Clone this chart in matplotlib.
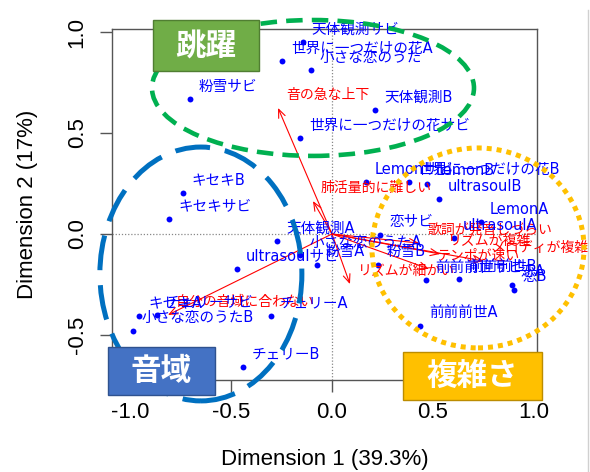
import matplotlib
matplotlib.use("Agg")
import matplotlib.pyplot as plt
from matplotlib.patches import Ellipse, Rectangle
from matplotlib.lines import Line2D

# ---------------- data ----------------
row_labels = ["天体観測サビ", "世界に一つだけの花A", "小さな恋のうた", "粉雪サビ", "天体観測B",
              "世界に一つだけの花サビ", "Lemonサビ", "世界に一つだけの花B", "LemonB", "ultrasoulB",
              "LemonA", "ultrasoulA", "恋サビ", "小さな恋のうたA", "粉雪B",
              "前前前世サビ", "前前前世B", "恋A", "恋B", "前前前世A",
              "キセキB", "キセキサビ", "天体観測A", "ultrasoulサビ", "粉雪A",
              "チェリーA", "キセキA", "チェリーサビ", "小さな恋のうたB", "チェリーB"]
row_x = [-0.144, -0.248, -0.104, -0.703, 0.213,
         -0.158, 0.168, 0.381, 0.470, 0.530,
         0.738, 0.604, 0.238, -0.158, 0.228,
         0.465, 0.629, 0.891, 0.901, 0.436,
         -0.738, -0.807, -0.272, -0.470, -0.074,
         -0.302, -0.955, -0.866, -0.985, -0.441]
row_y = [0.950, 0.856, 0.812, 0.668, 0.614,
         0.475, 0.257, 0.257, 0.248, 0.173,
         0.059, -0.020, -0.005, -0.104, -0.153,
         -0.228, -0.223, -0.252, -0.277, -0.455,
         0.203, 0.074, -0.035, -0.173, -0.153,
         -0.406, -0.406, -0.401, -0.480, -0.658]

col_labels = ["音の急な上下", "肺活量的に難しい", "自分の音域に合わない", "リズムが細かい",
              "歌詞が発音しづらい", "リズムが複雑", "テンポが速い", "メロディが複雑"]
col_x = [-0.267, -0.094, -0.812, 0.089, 0.431, 0.535, 0.480, 0.752]
col_y = [0.624, 0.163, -0.401, -0.248, -0.045, -0.099, -0.173, -0.134]

x_ticks = [-1.0, -0.5, 0.0, 0.5, 1.0]
y_ticks = [-0.5, 0.0, 0.5, 1.0]
x_title = "Dimension 1 (39.3%)"
y_title = "Dimension 2 (17%)"

group_names = ["跳躍", "音域", "複雑さ"]
group_centers_x = [-0.094, -0.649, 0.723]
group_centers_y = [0.723, -0.198, -0.069]
group_widths = [1.594, 1.00, 1.05]
group_heights = [0.673, 1.257, 0.99]

# ---------------- style ----------------
LABEL_FONT = ["DejaVu Sans", "Noto Sans CJK JP"]
AXIS_FONT = ["Liberation Sans", "DejaVu Sans"]

W, H = 590, 472
fig = plt.figure(figsize=(W / 100, H / 100), dpi=100)
fig.patch.set_facecolor("white")

L, R, T, B = 112, 537, 29, 380
ax = fig.add_axes([L / W, 1 - B / H, (R - L) / W, (B - T) / H])
ax.set_xlim(-1.089, 1.015)
ax.set_ylim(-0.723, 1.015)

for sp in ax.spines.values():
    sp.set_color("#555555")
    sp.set_linewidth(1.0)

ax.axhline(0, color="#888888", ls=(0, (1, 1.5)), lw=0.9, zorder=1)
ax.axvline(0, color="#888888", ls=(0, (1, 1.5)), lw=0.9, zorder=1)

ax.set_xticks(x_ticks)
ax.set_yticks(y_ticks)
ax.set_xticklabels([f"{v:.1f}" for v in x_ticks], family=AXIS_FONT, fontsize=16)
ax.set_yticklabels([f"{v:.1f}" for v in y_ticks], family=AXIS_FONT, fontsize=16,
                   rotation=90, va="center", ha="right")
ax.tick_params(direction="out", length=8.5, width=1.0, color="#555555", pad=7)
ax.tick_params(axis="y", pad=9)

fig.text(325 / W, 1 - 460 / H, x_title, ha="center", va="center",
         family=AXIS_FONT, fontsize=16)
fig.text(28 / W, 1 - 204 / H, y_title, ha="center", va="center", rotation=90,
         family=AXIS_FONT, fontsize=16)

# arrows (columns)
for lab, x, y in zip(col_labels, col_x, col_y):
    ax.annotate("", xy=(x, y), xytext=(0, 0),
                arrowprops=dict(arrowstyle="->,head_length=0.6,head_width=0.25",
                                color="red", lw=0.8, shrinkA=0, shrinkB=0),
                zorder=2.5)
    ax.annotate(lab, (x, y), xytext=(8, 13), textcoords="offset pixels",
                ha="left", va="center", color="red", fontsize=10,
                family=LABEL_FONT, annotation_clip=False, zorder=3)

# points (rows)
ax.scatter(row_x, row_y, s=18, color="blue", zorder=2, linewidths=0)
for lab, x, y in zip(row_labels, row_x, row_y):
    ax.annotate(lab, (x, y), xytext=(9, 13), textcoords="offset pixels",
                ha="left", va="center", color="blue", fontsize=10.5,
                family=LABEL_FONT, annotation_clip=False, zorder=3)

# group ellipses
ell_colors = ["#00B050", "#0070C0", "#FFC000"]
ell_lw = [3.3, 3.6, 3.6]
ell_ls = [(0, (3.6, 2.0)), (0, (7.0, 3.0)), (0, (1.0, 1.0))]
for cx, cy, w, h, c, lw, ls in zip(group_centers_x, group_centers_y, group_widths,
                                   group_heights, ell_colors, ell_lw, ell_ls):
    e = Ellipse((cx, cy), w, h, fill=False, edgecolor=c, lw=lw, ls=ls,
                clip_on=False, zorder=5, capstyle="butt")
    ax.add_patch(e)

# group title boxes (figure pixel layout)
box_px = [(153, 20, 259, 71), (108, 347, 215, 395), (403, 352, 542, 400)]
box_face = ["#70AD47", "#4472C4", "#FFC000"]
box_edge = ["#507E32", "#2F528F", "#BC8C00"]
for name, (x0, y0, x1, y1), fc, ec in zip(group_names, box_px, box_face, box_edge):
    rect = Rectangle((x0 / W, 1 - y1 / H), (x1 - x0) / W, (y1 - y0) / H,
                     transform=fig.transFigure, facecolor=fc, edgecolor=ec,
                     lw=1.0, zorder=10)
    fig.add_artist(rect)
    fig.text((x0 + x1) / 2 / W, 1 - (y0 + y1) / 2 / H, name, ha="center", va="center",
             color="white", fontsize=22, fontweight="bold",
             family=["Noto Sans CJK JP"], zorder=11)

# screenshot edge line
fig.add_artist(Line2D([588 / W, 588 / W], [0, 1 - 10 / H], transform=fig.transFigure,
                      color="#D0D0D0", lw=1.0))

fig.savefig("out.png", dpi=100)
